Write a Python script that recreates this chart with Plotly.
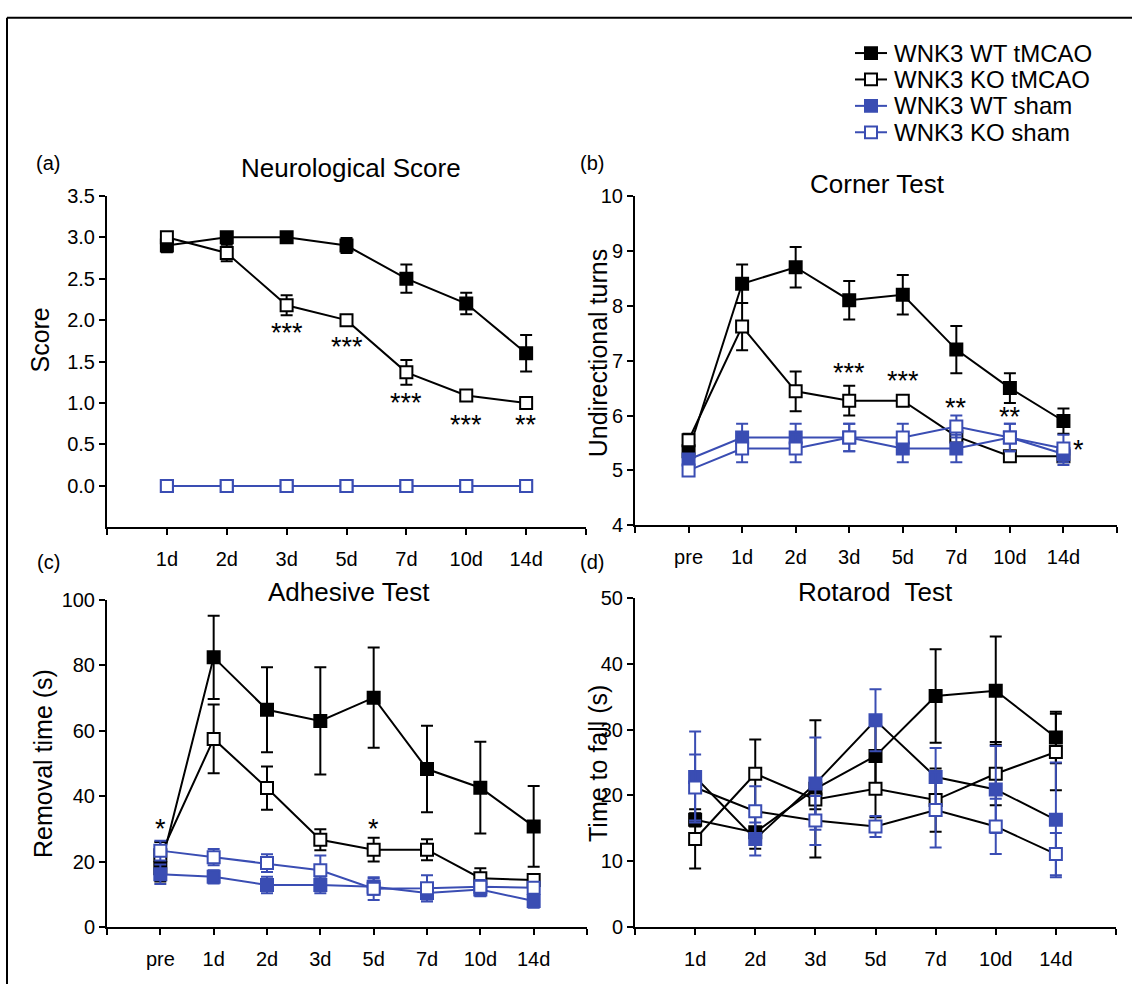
import plotly.graph_objects as go

W, H = 1132, 995
BLUE = "#3a4db3"
FONT = "Liberation Sans, Arial, sans-serif"

# ---------------- data ----------------
days7 = ["1d", "2d", "3d", "5d", "7d", "10d", "14d"]
days8 = ["pre", "1d", "2d", "3d", "5d", "7d", "10d", "14d"]
series_names = ["WNK3 WT tMCAO", "WNK3 KO tMCAO", "WNK3 WT sham", "WNK3 KO sham"]

neuro_wt_tmcao = [2.9, 3.0, 3.0, 2.9, 2.5, 2.2, 1.6]
neuro_wt_tmcao_err = [0.08, 0.02, 0.02, 0.09, 0.17, 0.13, 0.22]
neuro_ko_tmcao = [3.0, 2.81, 2.18, 2.0, 1.37, 1.09, 1.0]
neuro_ko_tmcao_err = [0.02, 0.1, 0.12, 0.02, 0.15, 0.05, 0.02]
neuro_wt_sham = [0.0, 0.0, 0.0, 0.0, 0.0, 0.0, 0.0]
neuro_wt_sham_err = [0.0, 0.0, 0.0, 0.0, 0.0, 0.0, 0.0]
neuro_ko_sham = [0.0, 0.0, 0.0, 0.0, 0.0, 0.0, 0.0]
neuro_ko_sham_err = [0.0, 0.0, 0.0, 0.0, 0.0, 0.0, 0.0]
neuro_stars = ["", "", "***", "***", "***", "***", "**"]
neuro_star_y = [None, None, 1.84, 1.68, 1.0, 0.73, 0.73]

corner_wt_tmcao = [5.35, 8.4, 8.7, 8.1, 8.2, 7.2, 6.5, 5.9]
corner_wt_tmcao_err = [0.12, 0.35, 0.37, 0.35, 0.36, 0.43, 0.27, 0.23]
corner_ko_tmcao = [5.55, 7.62, 6.44, 6.27, 6.27, 5.62, 5.26, 5.26]
corner_ko_tmcao_err = [0.12, 0.43, 0.36, 0.27, 0.05, 0.05, 0.05, 0.05]
corner_wt_sham = [5.2, 5.6, 5.6, 5.6, 5.4, 5.4, 5.6, 5.3]
corner_wt_sham_err = [0.1, 0.25, 0.25, 0.25, 0.25, 0.25, 0.25, 0.2]
corner_ko_sham = [5.0, 5.4, 5.4, 5.6, 5.6, 5.8, 5.6, 5.4]
corner_ko_sham_err = [0.05, 0.25, 0.25, 0.25, 0.25, 0.2, 0.25, 0.25]
corner_stars = ["", "", "", "***", "***", "**", "**", "*"]
corner_star_y = [None, None, None, 6.77, 6.62, 6.13, 5.98, 5.38]

adh_wt_tmcao = [18.0, 82.4, 66.4, 63.0, 70.1, 48.3, 42.6, 30.8]
adh_wt_tmcao_err = [4.0, 12.7, 13.0, 16.4, 15.3, 13.2, 14.0, 12.3]
adh_ko_tmcao = [22.0, 57.5, 42.5, 26.7, 23.7, 23.7, 15.0, 14.4]
adh_ko_tmcao_err = [4.0, 10.5, 6.6, 3.2, 3.6, 3.2, 3.0, 1.5]
adh_wt_sham = [16.2, 15.4, 12.9, 12.9, 12.4, 10.5, 11.5, 8.0]
adh_wt_sham_err = [3.0, 2.0, 2.5, 2.5, 2.5, 2.0, 2.0, 2.0]
adh_ko_sham = [23.4, 21.4, 19.6, 17.4, 11.8, 11.9, 12.4, 12.1]
adh_ko_sham_err = [3.0, 2.5, 2.7, 4.5, 3.5, 4.0, 2.0, 1.5]
adh_stars = ["*", "", "", "", "*", "", "", ""]
adh_star_y = [29.9, None, None, None, 29.9, None, None, None]

rot_wt_tmcao = [16.3, 14.4, 21.0, 26.0, 35.1, 35.9, 28.8]
rot_wt_tmcao_err = [1.0, 2.5, 10.4, 5.0, 7.1, 8.2, 3.9]
rot_ko_tmcao = [13.4, 23.3, 19.4, 21.0, 19.3, 23.3, 26.6]
rot_ko_tmcao_err = [4.5, 5.2, 1.5, 4.3, 4.8, 4.8, 5.8]
rot_wt_sham = [22.8, 13.4, 21.8, 31.4, 22.8, 20.9, 16.3]
rot_wt_sham_err = [6.9, 2.5, 7.0, 4.7, 4.4, 6.6, 8.7]
rot_ko_sham = [21.2, 17.6, 16.2, 15.3, 17.8, 15.3, 11.1]
rot_ko_sham_err = [5.0, 3.8, 3.7, 1.6, 5.7, 4.2, 3.2]

# ---------------- helpers ----------------
def px(x):
    return x / W

def py(y):
    return 1 - y / H

fig = go.Figure()

def add_series(axis_n, cats, vals, errs, name, filled, color, line_color=None):
    xs = list(range(len(cats)))
    sfx = "" if axis_n == 1 else str(axis_n)
    fig.add_trace(go.Scatter(
        x=xs, y=vals, name=name, mode="lines+markers", showlegend=False,
        xaxis="x" + sfx, yaxis="y" + sfx,
        line=dict(color=line_color or color, width=2),
        marker=dict(symbol="square", size=12,
                    color=color if filled else "white",
                    line=dict(color=color, width=2)),
        error_y=dict(type="data", array=errs, visible=True,
                     color=color, thickness=2, width=6),
        cliponaxis=False,
    ))

panels = [
    (1, days7, [neuro_wt_tmcao, neuro_ko_tmcao, neuro_wt_sham, neuro_ko_sham],
     [neuro_wt_tmcao_err, neuro_ko_tmcao_err, neuro_wt_sham_err, neuro_ko_sham_err], False),
    (2, days8, [corner_wt_tmcao, corner_ko_tmcao, corner_wt_sham, corner_ko_sham],
     [corner_wt_tmcao_err, corner_ko_tmcao_err, corner_wt_sham_err, corner_ko_sham_err], False),
    (3, days8, [adh_wt_tmcao, adh_ko_tmcao, adh_wt_sham, adh_ko_sham],
     [adh_wt_tmcao_err, adh_ko_tmcao_err, adh_wt_sham_err, adh_ko_sham_err], False),
    (4, days7, [rot_wt_tmcao, rot_ko_tmcao, rot_wt_sham, rot_ko_sham],
     [rot_wt_tmcao_err, rot_ko_tmcao_err, rot_wt_sham_err, rot_ko_sham_err], True),
]
styles = [(True, "black"), (False, "black"), (True, BLUE), (False, BLUE)]

for n, cats, vals, errs, black_lines in panels:
    for i in range(4):
        filled, color = styles[i]
        add_series(n, cats, vals[i], errs[i], series_names[i], filled, color,
                   line_color="black" if black_lines else None)

# axes geometry (pixel boxes in the reference picture)
boxes = {
    1: (107, 586, 189, 528),
    2: (635, 1117, 189, 526),
    3: (107, 587, 602, 937),
    4: (635, 1116, 600, 937),
}
yranges = {1: [-0.5, 3.5], 2: [4, 10], 3: [0, 100], 4: [0, 50]}
yticks = {
    1: [0, 0.5, 1.0, 1.5, 2.0, 2.5, 3.0, 3.5],
    2: [4, 5, 6, 7, 8, 9, 10],
    3: [0, 20, 40, 60, 80, 100],
    4: [0, 10, 20, 30, 40, 50],
}
ytext = {
    1: ["0.0", "0.5", "1.0", "1.5", "2.0", "2.5", "3.0", "3.5"],
    2: None, 3: None, 4: None,
}
cat_map = {1: days7, 2: days8, 3: days8, 4: days7}

layout = dict(
    width=W, height=H, margin=dict(l=0, r=0, t=0, b=0),
    paper_bgcolor="white", plot_bgcolor="white",
    font=dict(family=FONT, color="black", size=20),
    showlegend=False,
)
for n, (x0, x1, y0, y1) in boxes.items():
    cats = cat_map[n]
    sfx = "" if n == 1 else str(n)
    tv = list(range(-1, len(cats) + 1))
    tt = [""] + cats + [""]
    layout["xaxis" + sfx] = dict(
        domain=[px(x0), px(x1)], anchor="y" + sfx,
        range=[-1, len(cats)], tickvals=tv, ticktext=tt,
        showline=True, linecolor="black", linewidth=2,
        ticks="outside", ticklen=6, tickwidth=2, tickcolor="black",
        ticklabelstandoff=7,
        showgrid=False, zeroline=False, fixedrange=True,
        tickfont=dict(size=20, family=FONT, color="black"),
    )
    yd = dict(
        domain=[py(y1), py(y0)], anchor="x" + sfx,
        range=yranges[n], tickvals=yticks[n],
        showline=True, linecolor="black", linewidth=2,
        ticks="outside", ticklen=6, tickwidth=2, tickcolor="black",
        showgrid=False, zeroline=False, fixedrange=True,
        tickfont=dict(size=20, family=FONT, color="black"),
    )
    if ytext[n]:
        yd["ticktext"] = ytext[n]
    layout["yaxis" + sfx] = yd

fig.update_layout(**layout)

ann = []
# panel titles
titles = [("Neurological Score", 351, 161), ("Corner Test", 877, 177),
          ("Adhesive Test", 349, 594), ("Rotarod\u00a0 Test", 876, 594)]
for t, x, y in titles:
    ann.append(dict(text=t, x=px(x), y=py(y), xref="paper", yref="paper",
                    showarrow=False, font=dict(size=26, family=FONT),
                    xanchor="center", yanchor="middle", borderpad=0))
# panel letters
for t, x, y in [("(a)", 48, 155), ("(b)", 592, 155), ("(c)", 48, 563), ("(d)", 592, 563)]:
    ann.append(dict(text=t, x=px(x), y=py(y), xref="paper", yref="paper",
                    showarrow=False, font=dict(size=20, family=FONT),
                    xanchor="center", yanchor="middle", borderpad=0))
# y axis titles
for t, x, y in [("Score", 40, 337), ("Undirectional turns", 598, 350),
                ("Removal time (s)", 43, 770), ("Time to fall (s)", 598, 770)]:
    ann.append(dict(text=t, x=px(x), y=py(y), xref="paper", yref="paper",
                    showarrow=False, textangle=-90, font=dict(size=25, family=FONT),
                    xanchor="center", yanchor="middle", borderpad=0))

# significance stars
star_sets = [(1, neuro_stars, neuro_star_y), (2, corner_stars, corner_star_y),
             (3, adh_stars, adh_star_y)]
for n, stars, ys in star_sets:
    sfx = "" if n == 1 else str(n)
    for i, (s, yv) in enumerate(zip(stars, ys)):
        if not s:
            continue
        xshift = 15 if (n == 2 and i == len(stars) - 1) else 0
        ann.append(dict(text=s, x=i, y=yv, xref="x" + sfx, yref="y" + sfx,
                        showarrow=False, xshift=xshift, borderpad=0,
                        font=dict(size=27, family=FONT, color="black"),
                        xanchor="center", yanchor="middle"))

# legend (drawn manually to match the compact original)
leg_rows = [43, 70, 97, 124]
shapes = []
for i, yy in enumerate(leg_rows):
    filled, color = styles[i]
    shapes.append(dict(type="line", xref="paper", yref="paper",
                       x0=px(855), x1=px(887), y0=py(yy), y1=py(yy),
                       line=dict(color=color, width=2)))
    shapes.append(dict(type="rect", xref="paper", yref="paper",
                       x0=px(865), x1=px(877), y0=py(yy + 6), y1=py(yy - 6),
                       fillcolor=color if filled else "white",
                       line=dict(color=color, width=2)))
    ann.append(dict(text=series_names[i], x=px(893), y=py(yy), xref="paper", yref="paper",
                    showarrow=False, font=dict(size=24, family=FONT, color="black"),
                    xanchor="left", yanchor="middle", borderpad=0))

# figure frame (top and left)
shapes.append(dict(type="line", xref="paper", yref="paper", x0=px(7), x1=1,
                   y0=py(7), y1=py(7), line=dict(color="black", width=2)))
shapes.append(dict(type="line", xref="paper", yref="paper", x0=px(7), x1=px(7),
                   y0=py(7), y1=0, line=dict(color="black", width=2)))

fig.update_layout(annotations=ann, shapes=shapes)

# pin the figure to the page's top-left corner (no body margin / scrollbars)
post = ("var gd=document.getElementById('{plot_id}');"
        "document.documentElement.style.margin='0';"
        "document.body.style.margin='0';"
        "document.documentElement.style.overflow='hidden';"
        "document.body.style.overflow='hidden';"
        "gd.style.position='absolute';gd.style.left='0px';gd.style.top='0px';")
fig.write_html("out.html", post_script=post, config={"displayModeBar": False})
